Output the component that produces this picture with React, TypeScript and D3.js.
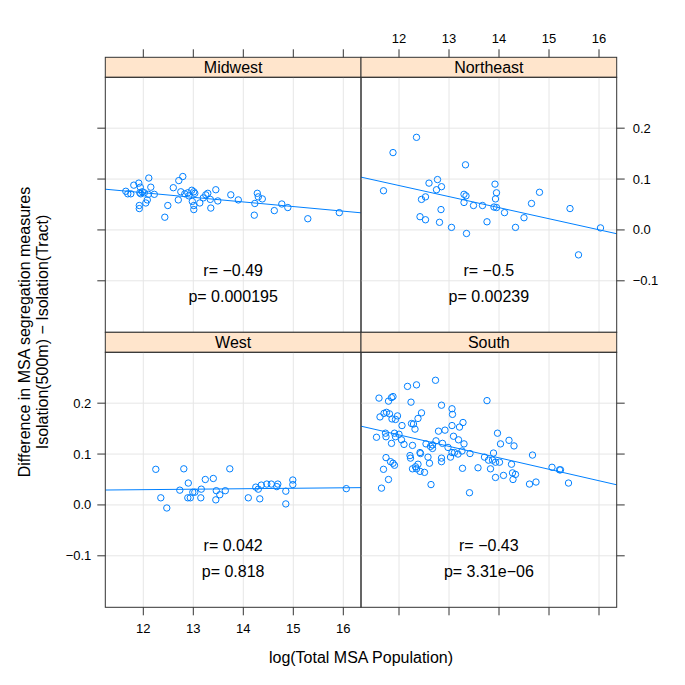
import React from "react";
import * as d3 from "d3";

const panelNames = ["Midwest", "Northeast", "West", "South"];

const midwestX = [11.65, 11.69, 11.75, 11.81, 11.91, 11.94, 11.93, 11.98, 11.95, 12.02, 12.10, 12.11, 12.15, 12.22, 11.92, 11.92, 12.05, 12.08, 12.43, 12.49, 12.60, 12.71, 12.79, 12.70, 12.75, 12.83, 12.89, 12.91, 12.97, 13.01, 13.03, 12.98, 13.01, 13.01, 13.13, 13.20, 13.25, 13.29, 13.34, 13.35, 13.45, 13.49, 13.75, 13.90, 14.23, 14.22, 14.28, 14.30, 14.38, 14.62, 14.77, 14.89, 15.29, 15.92];
const midwestY = [0.076, 0.071, 0.071, 0.088, 0.092, 0.084, 0.073, 0.075, 0.071, 0.073, 0.070, 0.102, 0.084, 0.070, 0.048, 0.042, 0.053, 0.059, 0.025, 0.048, 0.083, 0.097, 0.105, 0.059, 0.075, 0.071, 0.073, 0.067, 0.078, 0.075, 0.072, 0.056, 0.048, 0.040, 0.053, 0.063, 0.069, 0.072, 0.060, 0.043, 0.079, 0.057, 0.069, 0.059, 0.052, 0.029, 0.072, 0.065, 0.061, 0.038, 0.051, 0.044, 0.022, 0.034];

const northeastX = [11.69, 11.88, 12.35, 12.45, 12.53, 12.42, 12.53, 12.60, 12.77, 12.75, 12.85, 12.84, 12.81, 13.05, 13.33, 13.30, 13.34, 13.30, 13.35, 13.49, 13.67, 13.76, 13.92, 13.95, 13.93, 13.90, 13.95, 14.11, 14.33, 14.50, 14.65, 14.81, 15.42, 15.59, 16.03];
const northeastY = [0.077, 0.152, 0.182, 0.060, 0.065, 0.026, 0.020, 0.092, 0.099, 0.079, 0.085, 0.040, 0.015, 0.005, 0.128, 0.070, 0.067, 0.054, -0.007, 0.048, 0.048, 0.016, 0.090, 0.073, 0.061, 0.045, 0.044, 0.034, 0.005, 0.024, 0.052, 0.074, 0.042, -0.049, 0.004];

const westX = [12.25, 12.35, 12.47, 12.73, 12.81, 12.90, 12.89, 12.94, 12.99, 13.03, 13.16, 13.15, 13.24, 13.40, 13.46, 13.45, 13.53, 13.64, 13.73, 14.10, 14.25, 14.30, 14.36, 14.33, 14.47, 14.56, 14.69, 14.67, 14.85, 14.85, 14.99, 14.99, 16.06];
const westY = [0.070, 0.014, -0.006, 0.029, 0.071, 0.043, 0.014, 0.014, 0.025, 0.025, 0.031, 0.014, 0.050, 0.052, 0.028, 0.010, 0.020, 0.028, 0.071, 0.014, 0.035, 0.031, 0.039, 0.012, 0.041, 0.041, 0.041, 0.036, 0.027, 0.002, 0.049, 0.040, 0.032];

const southX = [11.60, 11.79, 11.85, 11.88, 12.17, 12.35, 12.73, 12.24, 12.85, 11.62, 11.70, 11.75, 11.81, 11.86, 11.93, 11.97, 12.45, 12.38, 12.25, 12.29, 12.32, 12.06, 11.55, 11.73, 11.74, 11.85, 11.91, 11.93, 12.00, 12.05, 12.10, 12.27, 12.79, 12.92, 13.06, 13.07, 13.06, 13.21, 13.28, 13.09, 13.19, 13.30, 12.54, 12.63, 12.67, 12.67, 12.74, 12.87, 12.98, 13.06, 13.03, 13.11, 13.18, 13.26, 13.42, 11.74, 11.83, 11.88, 11.91, 11.69, 11.79, 11.65, 12.22, 12.23, 12.42, 12.43, 12.58, 12.61, 12.27, 12.35, 12.38, 12.33, 12.42, 12.51, 12.85, 12.85, 12.64, 13.27, 13.41, 13.58, 13.76, 13.97, 14.03, 14.20, 14.30, 13.89, 13.71, 13.79, 13.87, 13.93, 14.01, 13.83, 13.93, 14.09, 14.25, 14.27, 14.33, 14.28, 14.67, 14.61, 14.74, 15.06, 15.21, 15.23, 15.39];
const southY = [0.210, 0.204, 0.211, 0.213, 0.233, 0.236, 0.245, 0.202, 0.196, 0.173, 0.180, 0.182, 0.179, 0.169, 0.168, 0.175, 0.181, 0.170, 0.160, 0.159, 0.149, 0.156, 0.133, 0.141, 0.134, 0.121, 0.141, 0.134, 0.139, 0.128, 0.119, 0.117, 0.145, 0.147, 0.189, 0.178, 0.156, 0.153, 0.162, 0.135, 0.128, 0.120, 0.120, 0.115, 0.111, 0.118, 0.126, 0.121, 0.113, 0.103, 0.094, 0.103, 0.100, 0.106, 0.101, 0.093, 0.085, 0.082, 0.078, 0.070, 0.050, 0.033, 0.097, 0.092, 0.103, 0.101, 0.094, 0.082, 0.071, 0.071, 0.080, 0.075, 0.066, 0.064, 0.092, 0.085, 0.040, 0.072, 0.024, 0.073, 0.205, 0.141, 0.120, 0.127, 0.116, 0.102, 0.094, 0.088, 0.088, 0.084, 0.084, 0.071, 0.054, 0.058, 0.080, 0.063, 0.060, 0.050, 0.098, 0.041, 0.045, 0.074, 0.069, 0.069, 0.043];

const rLabels = ["r= \u22120.49", "r= \u22120.5", "r= 0.042", "r= \u22120.43"];
const pLabels = ["p= 0.000195", "p= 0.00239", "p= 0.818", "p= 3.31e\u221206"];

const xTicks = [12, 13, 14, 15, 16];
const yTicks = [-0.1, 0.0, 0.1, 0.2];
const yTickLabels = ["\u22120.1", "0.0", "0.1", "0.2"];

const xTitle = "log(Total MSA Population)";
const yTitle1 = "Difference in MSA segregation measures";
const yTitle2 = "Isolation(500m) \u2212 Isolation(Tract)";

const panelXs = [midwestX, northeastX, westX, southX];
const panelYs = [midwestY, northeastY, westY, southY];

const FONT = "'Liberation Sans', Arial, Helvetica, sans-serif";
const COL = "#0080ff";

const left0 = 105.3;
const top0 = 57.3;
const panelW = 255.7;
const panelH = 255;
const stripH = 20;
const tickLen = 8;

const xScale = d3.scaleLinear().domain([11.24, 11.24 + panelW / 50]).range([0, panelW]);
const yScale = d3.scaleLinear().domain([-0.2012, 0.3]).range([panelH, 0]);

function lm(xs: number[], ys: number[]) {
  const mx = d3.mean(xs) as number;
  const my = d3.mean(ys) as number;
  let sxy = 0, sxx = 0;
  xs.forEach((x, i) => {
    sxy += (x - mx) * (ys[i] - my);
    sxx += (x - mx) * (x - mx);
  });
  const b = sxy / sxx;
  return { a: my - b * mx, b };
}

export default function App() {
  const panels = panelNames.map((name, i) => {
    const col = i % 2;
    const row = Math.floor(i / 2);
    const px = left0 + col * panelW;
    const stripY = top0 + row * (panelH + stripH);
    const py = stripY + stripH;
    return { name, i, col, row, px, py, stripY };
  });

  return (
    <svg width={685} height={685} style={{ position: "absolute", left: 0, top: 0, background: "#fff" }} fontFamily={FONT}>
      <defs>
        {panels.map((p) => (
          <clipPath id={`clip${p.i}`} key={p.i}>
            <rect x={0} y={0} width={panelW} height={panelH} />
          </clipPath>
        ))}
      </defs>
      {panels.map((p) => {
        const xs = panelXs[p.i];
        const ys = panelYs[p.i];
        const fit = lm(xs, ys);
        const [d0, d1] = xScale.domain();
        const line = d3.line<number>().x((d) => xScale(d)).y((d) => yScale(fit.a + fit.b * d));
        return (
          <g key={p.i}>
            {/* strip */}
            <rect x={p.px} y={p.stripY} width={panelW} height={stripH} fill="#ffe5cc" stroke="#333" strokeWidth={1} />
            <text x={p.px + panelW / 2} y={p.stripY + stripH / 2} textAnchor="middle" dominantBaseline="central" fontSize={16} fill="#000">
              {p.name}
            </text>
            <g transform={`translate(${p.px},${p.py})`}>
              <g clipPath={`url(#clip${p.i})`}>
                {xTicks.map((t) => (
                  <line key={"gx" + t} x1={xScale(t)} x2={xScale(t)} y1={0} y2={panelH} stroke="#e6e6e6" strokeWidth={1} />
                ))}
                {yTicks.map((t) => (
                  <line key={"gy" + t} x1={0} x2={panelW} y1={yScale(t)} y2={yScale(t)} stroke="#e6e6e6" strokeWidth={1} />
                ))}
                {xs.map((x, k) => (
                  <circle key={k} cx={xScale(x)} cy={yScale(ys[k])} r={3.2} fill="none" stroke={COL} strokeWidth={1} />
                ))}
                <path d={line([d0, d1]) || ""} fill="none" stroke={COL} strokeWidth={1} />
              </g>
              <text x={panelW / 2} y={193} textAnchor="middle" dominantBaseline="central" fontSize={16} fill="#000">
                {rLabels[p.i]}
              </text>
              <text x={panelW / 2} y={219} textAnchor="middle" dominantBaseline="central" fontSize={16} fill="#000">
                {pLabels[p.i]}
              </text>
              <rect x={0} y={0} width={panelW} height={panelH} fill="none" stroke="#333" strokeWidth={1} />
              {/* bottom ticks */}
              {p.row === 1 &&
                xTicks.map((t) => (
                  <g key={"bt" + t}>
                    <line x1={xScale(t)} x2={xScale(t)} y1={panelH} y2={panelH + tickLen} stroke="#333" />
                    {p.col === 0 && (
                      <text x={xScale(t)} y={panelH + 21} textAnchor="middle" dominantBaseline="central" fontSize={13} fill="#000">
                        {t}
                      </text>
                    )}
                  </g>
                ))}
              {/* top ticks (above strip) */}
              {p.row === 0 &&
                xTicks.map((t) => (
                  <g key={"tt" + t}>
                    <line x1={xScale(t)} x2={xScale(t)} y1={-stripH} y2={-stripH - tickLen} stroke="#333" />
                    {p.col === 1 && (
                      <text x={xScale(t)} y={-stripH - 19} textAnchor="middle" dominantBaseline="central" fontSize={13} fill="#000">
                        {t}
                      </text>
                    )}
                  </g>
                ))}
              {/* left ticks */}
              {p.col === 0 &&
                yTicks.map((t, k) => (
                  <g key={"lt" + t}>
                    <line x1={0} x2={-tickLen} y1={yScale(t)} y2={yScale(t)} stroke="#333" />
                    {p.row === 1 && (
                      <text x={-tickLen - 6} y={yScale(t)} textAnchor="end" dominantBaseline="central" fontSize={13} fill="#000">
                        {yTickLabels[k]}
                      </text>
                    )}
                  </g>
                ))}
              {/* right ticks */}
              {p.col === 1 &&
                yTicks.map((t, k) => (
                  <g key={"rt" + t}>
                    <line x1={panelW} x2={panelW + tickLen} y1={yScale(t)} y2={yScale(t)} stroke="#333" />
                    {p.row === 0 && (
                      <text x={panelW + tickLen + 8} y={yScale(t)} textAnchor="start" dominantBaseline="central" fontSize={13} fill="#000">
                        {yTickLabels[k]}
                      </text>
                    )}
                  </g>
                ))}
            </g>
          </g>
        );
      })}
      <text x={left0 + panelW} y={657} textAnchor="middle" dominantBaseline="central" fontSize={16} fill="#000">
        {xTitle}
      </text>
      <g transform={`translate(24,332) rotate(-90)`}>
        <text x={0} y={0} textAnchor="middle" dominantBaseline="central" fontSize={16} fill="#000">
          {yTitle1}
        </text>
        <text x={0} y={18} textAnchor="middle" dominantBaseline="central" fontSize={16} fill="#000">
          {yTitle2}
        </text>
      </g>
    </svg>
  );
}
